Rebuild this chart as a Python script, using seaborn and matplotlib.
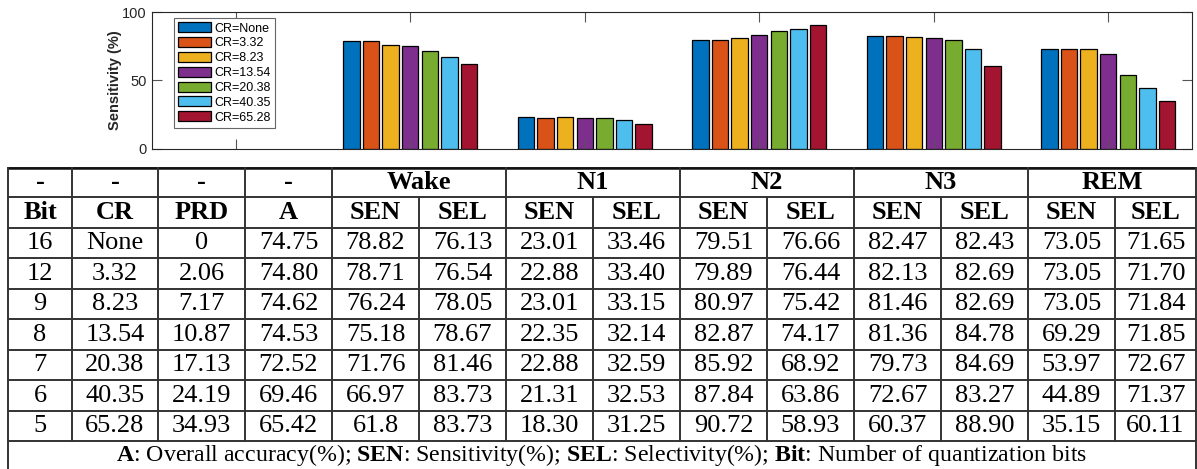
import numpy as np
import pandas as pd
import matplotlib
matplotlib.use("Agg")
import matplotlib.pyplot as plt
import seaborn as sns

# ---------------- data ----------------
stages = ["Wake", "N1", "N2", "N3", "REM"]
bits = ["16", "12", "9", "8", "7", "6", "5"]
cr_labels = ["None", "3.32", "8.23", "13.54", "20.38", "40.35", "65.28"]
prd = ["0", "2.06", "7.17", "10.87", "17.13", "24.19", "34.93"]
acc = ["74.75", "74.80", "74.62", "74.53", "72.52", "69.46", "65.42"]
sen_wake = ["78.82", "78.71", "76.24", "75.18", "71.76", "66.97", "61.8"]
sel_wake = ["76.13", "76.54", "78.05", "78.67", "81.46", "83.73", "83.73"]
sen_n1 = ["23.01", "22.88", "23.01", "22.35", "22.88", "21.31", "18.30"]
sel_n1 = ["33.46", "33.40", "33.15", "32.14", "32.59", "32.53", "31.25"]
sen_n2 = ["79.51", "79.89", "80.97", "82.87", "85.92", "87.84", "90.72"]
sel_n2 = ["76.66", "76.44", "75.42", "74.17", "68.92", "63.86", "58.93"]
sen_n3 = ["82.47", "82.13", "81.46", "81.36", "79.73", "72.67", "60.37"]
sel_n3 = ["82.43", "82.69", "82.69", "84.78", "84.69", "83.27", "88.90"]
sen_rem = ["73.05", "73.05", "73.05", "69.29", "53.97", "44.89", "35.15"]
sel_rem = ["71.65", "71.70", "71.84", "71.85", "72.67", "71.37", "60.11"]

colors = ["#0072BD", "#D95319", "#EDB120", "#7E2F8E", "#77AC30", "#4DBEEE", "#A2142F"]

sen_all = [sen_wake, sen_n1, sen_n2, sen_n3, sen_rem]
sel_all = [sel_wake, sel_n1, sel_n2, sel_n3, sel_rem]

rows = []
for st, vals in zip(stages, sen_all):
    for cr, v in zip(cr_labels, vals):
        rows.append({"stage": st, "CR": "CR=" + cr, "sen": float(v)})
df = pd.DataFrame(rows)

# ---------------- figure ----------------
W, H = 1197, 469
fig = plt.figure(figsize=(W / 100, H / 100), dpi=100)
sans = ["Liberation Sans", "DejaVu Sans"]
serif = ["Liberation Serif", "DejaVu Serif"]
plt.rcParams["mathtext.fontset"] = "custom"
plt.rcParams["mathtext.rm"] = "Liberation Serif"
plt.rcParams["mathtext.bf"] = "Liberation Serif:bold"
plt.rcParams["mathtext.it"] = "Liberation Serif:italic"

# table axes in pixel coordinates
axt = fig.add_axes([0, 0, 1, 1])
axt.set_xlim(0, W)
axt.set_ylim(H, 0)
axt.axis("off")

# bar axes
L, R, T, B = 152, 1192, 12, 149
ax = fig.add_axes([L / W, 1 - B / H, (R - L) / W, (B - T) / H])
order = [" "] + stages
sns.barplot(data=df, x="stage", y="sen", hue="CR", order=order,
            hue_order=["CR=" + c for c in cr_labels], palette=colors,
            width=0.785, gap=0.16, edgecolor="black", linewidth=0.9,
            saturation=1, ax=ax, errorbar=None)
ax.set_xlim(-0.48, 5.48)
ax.set_ylim(0, 100)
ax.set_yticks([0, 50, 100])
ax.set_xticks(range(6))
ax.set_xticklabels([])
ax.set_xlabel("")
ax.set_ylabel("Sensitivity (%)", fontsize=10.5, fontweight="bold",
              family=sans, color="#262626", labelpad=0)
for lab in ax.get_yticklabels():
    lab.set_family(sans)
    lab.set_fontsize(10.5)
    lab.set_color("#262626")
ax.tick_params(axis="both", direction="in", length=7.2, width=0.8,
               color="#555555", top=True, right=True, pad=4)
for sp in ax.spines.values():
    sp.set_color("#262626")
    sp.set_linewidth(0.8)
ax.set_facecolor("white")

handles, labels = ax.get_legend_handles_labels()
leg = ax.legend(handles, labels, loc="upper left",
                bbox_to_anchor=((174 - L) / (R - L), (B - 18) / (B - T)),
                borderaxespad=0, prop={"family": sans, "size": 9},
                handlelength=2.6, handleheight=0.85, handletextpad=0.3,
                labelspacing=0.2, borderpad=0.35, frameon=True,
                fancybox=False, framealpha=1, edgecolor="#666666")
leg.get_frame().set_linewidth(0.8)

# ---------------- table ----------------
cols = [8, 72, 158, 245, 332, 419, 506, 593, 680, 767, 854, 941, 1028, 1115, 1196]
ys = [168, 197.5, 228, 258.5, 289, 319.5, 350, 380.5, 411, 441]
bottom = 470
lc = "#333333"
lw = 1.4
for y in ys:
    axt.plot([cols[0], cols[-1]], [y, y], color=lc, lw=lw, solid_capstyle="butt")
axt.plot([cols[0], cols[-1]], [ys[0], ys[0]], color="#111111", lw=1.8)
# vertical lines
group_inner = {5, 7, 9, 11, 13}
for i, x in enumerate(cols):
    if i not in group_inner:
        axt.plot([x, x], [ys[0], ys[1]], color=lc, lw=lw)
    axt.plot([x, x], [ys[1], ys[-1]], color=lc, lw=lw)
for x in (cols[0], cols[-1]):
    axt.plot([x, x], [ys[-1], bottom], color=lc, lw=lw)

fs = 19
def cx(i):
    return (cols[i] + cols[i + 1]) / 2
def cy(r):
    return (ys[r] + ys[r + 1]) / 2

# header row 0
for i in range(4):
    axt.text(cx(i), cy(0), "-", ha="center", va="center", family=serif,
             fontsize=fs, fontweight="bold")
for k, st in enumerate(stages):
    x = (cols[4 + 2 * k] + cols[6 + 2 * k]) / 2
    axt.text(x, cy(0), st, ha="center", va="center", family=serif,
             fontsize=fs, fontweight="bold")
# header row 1
hdr = ["Bit", "CR", "PRD", "A"] + ["SEN", "SEL"] * 5
for i, h in enumerate(hdr):
    axt.text(cx(i), cy(1), h, ha="center", va="center", family=serif,
             fontsize=fs, fontweight="bold")
# data rows
for r in range(7):
    vals = [bits[r], cr_labels[r], prd[r], acc[r]]
    for s_list, l_list in zip(sen_all, sel_all):
        vals += [s_list[r], l_list[r]]
    for i, v in enumerate(vals):
        axt.text(cx(i), cy(2 + r), v, ha="center", va="center",
                 family=serif, fontsize=fs)

foot = (r"$\mathbf{A}$: Overall accuracy(%); $\mathbf{SEN}$: Sensitivity(%); "
        r"$\mathbf{SEL}$: Selectivity(%); $\mathbf{Bit}$: Number of quantization bits")
axt.text((cols[0] + cols[-1]) / 2, 455, foot, ha="center", va="center",
         family=serif, fontsize=17.2)

fig.savefig("out.png", dpi=100)
